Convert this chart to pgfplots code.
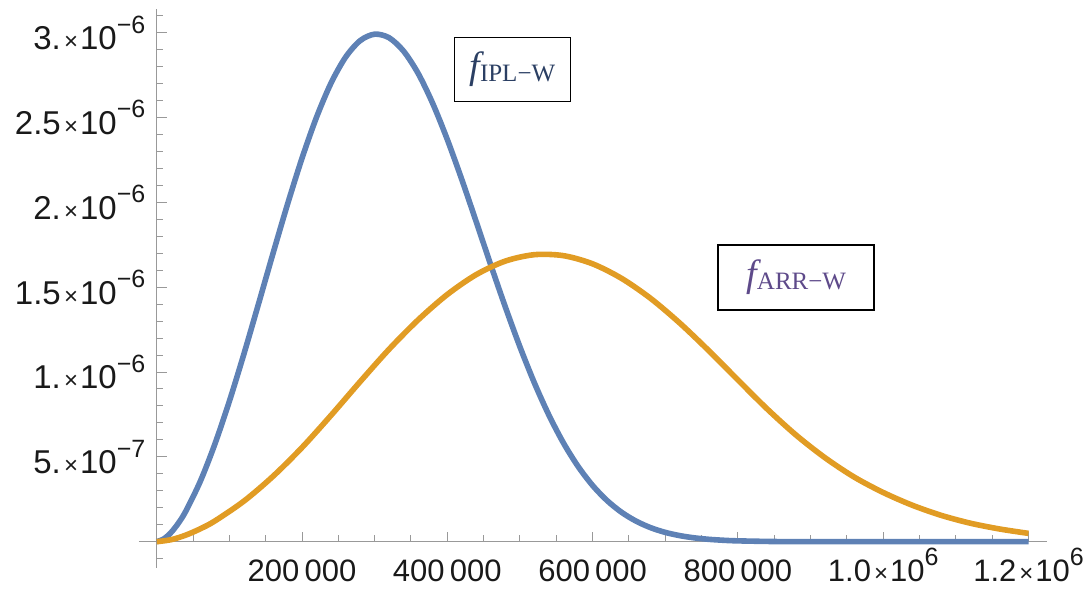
\documentclass[border=0pt]{standalone}
\usepackage{pgfplots}
\pgfplotsset{compat=1.18}
\usepackage{fontspec}
\setmainfont{Liberation Sans}
\newfontfamily\labelserif{Liberation Serif}
\definecolor{mblue}{rgb}{0.368417,0.506779,0.709798}
\definecolor{morange}{rgb}{0.880722,0.611041,0.142051}
\definecolor{navy}{HTML}{2B3F63}
\definecolor{plum}{HTML}{5E4A8A}
\newcommand\sci[2]{#1\hspace{0.1em}{\fontsize{12pt}{12pt}\selectfont ×}\hspace{0.06em}10\raisebox{0.5em}{\fontsize{12.5pt}{12.5pt}\selectfont #2}}
\newcommand\flab[1]{\labelserif\fontsize{19pt}{19pt}\selectfont\itshape f\upshape\raisebox{-1.5pt}{\fontsize{12.5pt}{12.5pt}\selectfont #1}}
\begin{document}
\begin{tikzpicture}
\begin{axis}[
  at={(0,0)}, anchor=south west,
  scale only axis, width=453.85pt, height=279.35pt,
  xmin=-24360, xmax=1225050, ymin=-1.55e-7, ymax=3.138e-6,
  axis lines=middle, axis line style={-, draw=black!40, line width=0.6pt},
  tick align=inside, major tick length=5pt, minor tick length=3.3pt,
  tick style={draw=black!40, line width=0.5pt},
  scaled x ticks=false, scaled y ticks=false,
  xtick={200000,400000,600000,800000,1000000,1200000},
  xticklabels={200\,000,400\,000,600\,000,800\,000,\sci{1.0}{6},\sci{1.2}{6}},
  minor xtick={50000,100000,150000,250000,300000,350000,450000,500000,550000,650000,700000,750000,850000,900000,950000,1050000,1100000,1150000},
  ytick={5e-7,1e-6,1.5e-6,2e-6,2.5e-6,3e-6},
  yticklabels={\sci{5.}{−7},\sci{1.}{−6},\sci{1.5}{−6},\sci{2.}{−6},\sci{2.5}{−6},\sci{3.}{−6}},
  minor ytick={-1e-7,1e-7,2e-7,3e-7,4e-7,6e-7,7e-7,8e-7,9e-7,1.1e-6,1.2e-6,1.3e-6,1.4e-6,1.6e-6,1.7e-6,1.8e-6,1.9e-6,2.1e-6,2.2e-6,2.3e-6,2.4e-6,2.6e-6,2.7e-6,2.8e-6,2.9e-6,3.1e-6},
  xticklabel style={anchor=base, inner sep=0pt, yshift=-19.75pt, font=\fontsize{15.5pt}{15.5pt}\selectfont, text=black!90},
  yticklabel style={anchor=east, inner sep=0pt, xshift=-5.5pt, font=\fontsize{16.5pt}{16.5pt}\selectfont, text=black!90},
  clip=false,
]
\addplot[color=mblue, line width=2.8pt, line join=round, smooth, tension=0.5] coordinates {
(0,0) (10000,1.70e-8) (20000,5.536e-8) (30000,1.102e-7) (40000,1.794e-7) (60000,3.556e-7) (80000,5.746e-7)
(100000,8.275e-7) (120000,1.1058e-6) (140000,1.3996e-6) (160000,1.6974e-6)
(180000,1.9880e-6) (200000,2.2599e-6) (220000,2.5017e-6) (240000,2.7034e-6)
(260000,2.8558e-6) (280000,2.9531e-6) (300000,2.9914e-6) (320000,2.9699e-6)
(340000,2.8906e-6) (360000,2.7591e-6) (380000,2.5824e-6) (400000,2.3706e-6)
(420000,2.1340e-6) (440000,1.8832e-6) (460000,1.6291e-6) (480000,1.3820e-6)
(500000,1.1484e-6) (520000,9.345e-7) (540000,7.447e-7) (560000,5.810e-7)
(580000,4.437e-7) (600000,3.314e-7) (620000,2.421e-7) (640000,1.729e-7)
(660000,1.208e-7) (680000,8.24e-8) (700000,5.49e-8) (720000,3.57e-8)
(740000,2.26e-8) (760000,1.40e-8) (780000,8.4e-9) (800000,4.9e-9)
(850000,1.0e-9) (900000,1e-10) (1000000,0) (1100000,0) (1200000,0)
};
\addplot[color=morange, line width=2.8pt, line join=round, smooth, tension=0.5] coordinates {
(0,0) (20000,1.192e-8) (40000,3.87e-8) (60000,7.6e-8) (80000,1.22e-7) (120000,2.39e-7)
(160000,3.85e-7) (200000,5.55e-7) (240000,7.45e-7) (280000,9.43e-7)
(320000,1.135e-6) (360000,1.308e-6) (400000,1.457e-6) (440000,1.5746e-6)
(480000,1.6541e-6) (520000,1.6917e-6) (560000,1.6858e-6) (600000,1.6377e-6)
(640000,1.5516e-6) (680000,1.4335e-6) (720000,1.2885e-6) (760000,1.1255e-6)
(800000,9.535e-7) (840000,7.835e-7) (880000,6.285e-7) (920000,4.945e-7)
(960000,3.81e-7) (1000000,2.90e-7) (1040000,2.15e-7) (1080000,1.55e-7)
(1120000,1.09e-7) (1160000,7.5e-8) (1200000,4.9e-8)
};
\node[draw=black, line width=0.75pt, minimum width=58pt, minimum height=32pt, inner sep=0pt, text=navy] at (axis cs:489500,2.783e-6) {\flab{IPL−W}};
\node[draw=black, line width=0.75pt, minimum width=78pt, minimum height=32.5pt, inner sep=0pt, text=plum] at (axis cs:880300,1.557e-6) {\flab{ARR−W}};
\end{axis}
\pgfresetboundingbox
\path (-69.5pt,-12pt) rectangle (476pt,284pt);
\end{tikzpicture}
\end{document}
